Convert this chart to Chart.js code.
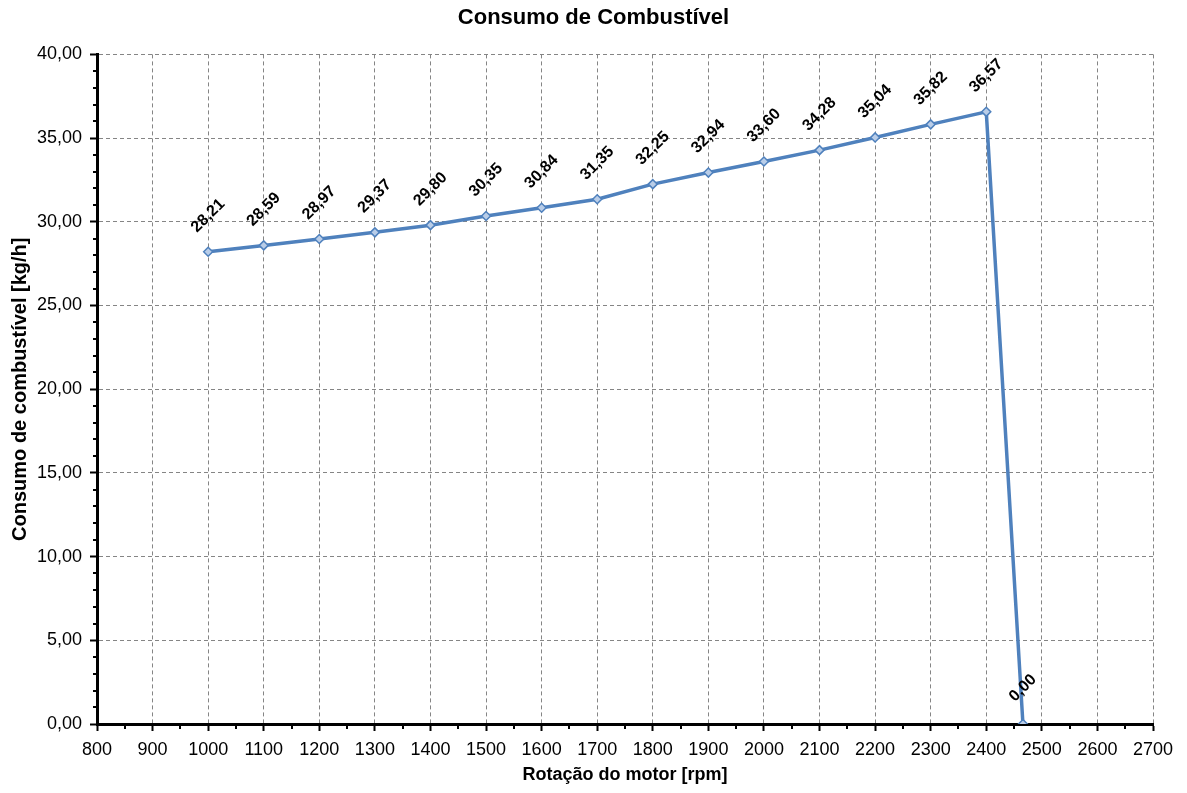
<!DOCTYPE html>
<html>
<head>
<meta charset="utf-8">
<script src="https://cdn.jsdelivr.net/npm/chart.js@4/dist/chart.umd.min.js"></script>
<style>
    html, body { margin: 0; padding: 0; background: #fff; }
    #wrap { width: 1187px; height: 793px; }
</style>
</head>
<body>
<div id="wrap"><canvas id="c" width="1187" height="793"></canvas></div>
<script>
// rotação (rpm) e consumo (kg/h)
const rpm = [1000, 1100, 1200, 1300, 1400, 1500, 1600, 1700, 1800, 1900, 2000, 2100, 2200, 2300, 2400, 2466];
const consumo = [28.21, 28.59, 28.97, 29.37, 29.80, 30.35, 30.84, 31.35, 32.25, 32.94, 33.60, 34.28, 35.04, 35.82, 36.57, 0.00];
const xTicks = [800, 900, 1000, 1100, 1200, 1300, 1400, 1500, 1600, 1700, 1800, 1900, 2000, 2100, 2200, 2300, 2400, 2500, 2600, 2700];
const yTicks = [0, 5, 10, 15, 20, 25, 30, 35, 40];

const fmt = v => v.toFixed(2).replace('.', ',');
const FONT = "'Liberation Sans', Arial, sans-serif";

// rótulos de valor inclinados sobre cada ponto
const valueLabels = {
    id: 'valueLabels',
    afterDatasetsDraw(chart) {
        const ctx = chart.ctx;
        const meta = chart.getDatasetMeta(0);
        ctx.save();
        ctx.font = "bold 16px " + FONT;
        ctx.fillStyle = '#000';
        ctx.textAlign = 'center';
        ctx.textBaseline = 'middle';
        meta.data.forEach((pt, i) => {
            ctx.save();
            ctx.translate(pt.x, pt.y - 36);
            ctx.rotate(-Math.PI / 4);
            ctx.fillText(fmt(consumo[i]), 0, 0);
            ctx.restore();
        });
        ctx.restore();
    }
};

// marcas secundárias nos eixos
const minorTicks = {
    id: 'minorTicks',
    afterDraw(chart) {
        const ctx = chart.ctx;
        const xs = chart.scales.x, ys = chart.scales.y;
        const area = chart.chartArea;
        ctx.save();
        ctx.strokeStyle = '#000';
        ctx.lineWidth = 2;
        ctx.beginPath();
        for (let v = xs.min + 50; v < xs.max; v += 100) {
            const px = Math.round(xs.getPixelForValue(v));
            ctx.moveTo(px, area.bottom);
            ctx.lineTo(px, area.bottom + 5);
        }
        for (let v = ys.min + 1; v < ys.max; v += 1) {
            if (v % 5 === 0) continue;
            const py = Math.round(ys.getPixelForValue(v));
            ctx.moveTo(area.left, py);
            ctx.lineTo(area.left - 4, py);
        }
        ctx.stroke();
        ctx.restore();
    }
};

// título centrado na largura toda do canvas
const fullWidthTitle = {
    id: 'fullWidthTitle',
    afterLayout(chart) {
        const t = chart.titleBlock;
        if (t) {
            t.left = 0;
            t.right = chart.width;
            t.width = chart.width;
        }
    }
};

const gridStyle = {
    color: '#858585',
    lineWidth: 1,
    tickColor: '#000',
    tickWidth: 2,
    tickBorderDash: [],
    tickLength: 7
};
const borderStyle = { display: true, color: '#000', width: 3, dash: [4, 3] };

new Chart(document.getElementById('c').getContext('2d'), {
    type: 'line',
    data: {
        datasets: [{
            label: 'Consumo',
            data: rpm.map((r, i) => ({ x: r, y: consumo[i] })),
            borderColor: '#4f81bd',
            borderWidth: 3.5,
            pointStyle: 'rectRot',
            pointRadius: 4.5,
            pointBackgroundColor: '#b9cde8',
            pointBorderColor: '#4f81bd',
            pointBorderWidth: 1.5,
            tension: 0
        }]
    },
    options: {
        responsive: false,
        animation: false,
        layout: { padding: { left: 0, right: 34, top: 0, bottom: 0 } },
        scales: {
            x: {
                type: 'linear',
                min: 800,
                max: 2700,
                afterBuildTicks: s => { s.ticks = xTicks.map(v => ({ value: v })); },
                afterFit: s => { s.height = 69; },
                grid: gridStyle,
                border: borderStyle,
                ticks: {
                    color: '#000',
                    font: { family: FONT, size: 18 },
                    padding: 8,
                    maxRotation: 0,
                    callback: v => String(v)
                },
                title: {
                    display: true,
                    text: 'Rotação do motor [rpm]',
                    color: '#000',
                    font: { family: FONT, size: 18, weight: 'bold' },
                    padding: { top: 0, bottom: 7 }
                }
            },
            y: {
                min: 0,
                max: 40,
                afterBuildTicks: s => { s.ticks = yTicks.map(v => ({ value: v })); },
                afterFit: s => { s.width = 97; },
                grid: gridStyle,
                border: borderStyle,
                ticks: {
                    color: '#000',
                    font: { family: FONT, size: 18 },
                    padding: 8,
                    callback: v => fmt(v)
                },
                title: {
                    display: true,
                    text: 'Consumo de combustível [kg/h]',
                    color: '#000',
                    font: { family: FONT, size: 20, weight: 'bold' },
                    padding: { top: 8, bottom: 0 }
                }
            }
        },
        plugins: {
            legend: { display: false },
            tooltip: { enabled: false },
            title: {
                display: true,
                text: 'Consumo de Combustível',
                color: '#000',
                font: { family: FONT, size: 22, weight: 'bold' },
                padding: { top: 5, bottom: 23 }
            }
        }
    },
    plugins: [valueLabels, minorTicks, fullWidthTitle]
});
</script>
</body>
</html>
